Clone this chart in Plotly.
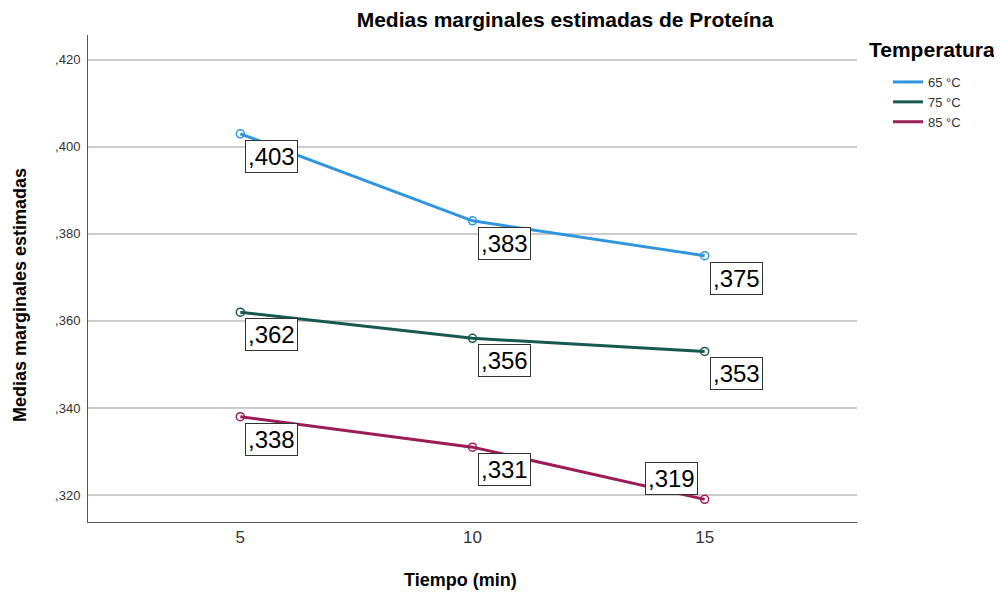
import plotly.graph_objects as go

tiempo = [5, 10, 15]
temperaturas = ['65 °C', '75 °C', '85 °C']
medias_65 = [0.403, 0.383, 0.375]
medias_75 = [0.362, 0.356, 0.353]
medias_85 = [0.338, 0.331, 0.319]
etiquetas_65 = [',403', ',383', ',375']
etiquetas_75 = [',362', ',356', ',353']
etiquetas_85 = [',338', ',331', ',319']
y_ticks = [0.32, 0.34, 0.36, 0.38, 0.40, 0.42]
y_ticktext = [',320', ',340', ',360', ',380', ',400', ',420']

colores = ['#2f96de', '#17594f', '#9a1d55']
series = [medias_65, medias_75, medias_85]
etiquetas = [etiquetas_65, etiquetas_75, etiquetas_85]

fig = go.Figure()

for nombre, ys, col in zip(temperaturas, series, colores):
    # linea (aparece en la leyenda)
    fig.add_trace(go.Scatter(
        x=tiempo, y=ys, name=nombre, mode='lines',
        line=dict(color=col, width=3),
    ))
    # marcadores abiertos, fuera de la leyenda
    fig.add_trace(go.Scatter(
        x=tiempo, y=ys, name=nombre, mode='markers', showlegend=False,
        marker=dict(symbol='circle-open', size=8, color=col, line=dict(width=1.5)),
    ))

# etiquetas con recuadro
for ys, labs in zip(series, etiquetas):
    for xv, yv, t in zip(tiempo, ys, labs):
        arriba = (t == ',319')
        fig.add_annotation(
            x=xv, y=yv, text=t, showarrow=False,
            xanchor='right' if arriba else 'left',
            yanchor='bottom' if arriba else 'top',
            xshift=-7 if arriba else 5,
            yshift=4 if arriba else -6,
            font=dict(family='Arial, Liberation Sans', size=24, color='black'),
            bgcolor='white', bordercolor='#333333', borderwidth=1, borderpad=2,
        )

# posiciones en pixeles de la pagina -> coordenadas paper del area de trazado
def px_x(p):
    return (p - 88) / 769

def px_y(p):
    return 1 + (35 - p) / 487

# titulo de la leyenda
fig.add_annotation(
    text='<b>Temperatura</b>', xref='paper', yref='paper',
    x=px_x(867), y=px_y(50), xanchor='left', yanchor='middle',
    showarrow=False, font=dict(size=21, color='black'),
)
# titulos de los ejes
fig.add_annotation(
    text='<b>Medias marginales estimadas</b>', xref='paper', yref='paper',
    x=px_x(20), y=px_y(295), xanchor='center', yanchor='middle', textangle=-90,
    showarrow=False, font=dict(size=18, color='black'),
)
fig.add_annotation(
    text='<b>Tiempo (min)</b>', xref='paper', yref='paper',
    x=px_x(460), y=px_y(580), xanchor='center', yanchor='middle',
    showarrow=False, font=dict(size=18, color='black'),
)

# la pagina html tiene 8px de margen en el body
fig.update_layout(
    width=994, height=588,
    margin=dict(l=80, r=145, t=27, b=74),
    plot_bgcolor='white', paper_bgcolor='white',
    font=dict(family='Arial, Liberation Sans', color='black'),
    title=dict(text='<b>Medias marginales estimadas de Proteína</b>',
               x=557 / 994, xanchor='center', y=1 - 12 / 588, yanchor='middle',
               font=dict(size=21)),
    legend=dict(
        x=px_x(888), xanchor='left', y=px_y(67), yanchor='top',
        font=dict(size=13, color='#333333'),
        itemwidth=30, tracegroupgap=0, bgcolor='rgba(0,0,0,0)',
    ),
    showlegend=True,
)

fig.update_xaxes(
    range=[1.72, 18.28], tickvals=tiempo, ticktext=[str(v) for v in tiempo],
    showgrid=False, showline=True, linecolor='#555555', linewidth=1,
    ticks='', tickfont=dict(size=17, color='#333333'),
    zeroline=False, automargin=False,
)
fig.update_yaxes(
    range=[0.3138, 0.4257], tickvals=y_ticks, ticktext=y_ticktext,
    showgrid=True, gridcolor='#cccccc', gridwidth=1.5,
    showline=True, linecolor='#555555', linewidth=1,
    ticks='', tickfont=dict(size=13, color='#333333'), ticklabelstandoff=4,
    zeroline=False, automargin=False,
)

fig.write_html("out.html")
